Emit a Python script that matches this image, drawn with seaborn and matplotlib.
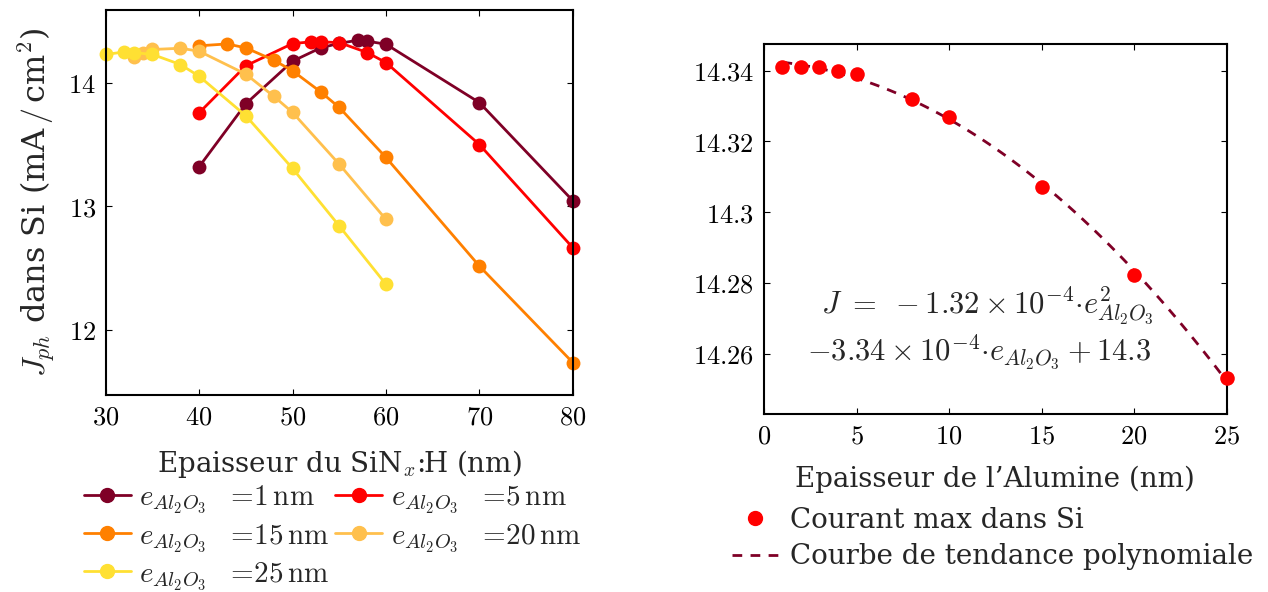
import numpy as np
import pandas as pd
import matplotlib
matplotlib.use("Agg")
import matplotlib.pyplot as plt
from matplotlib.lines import Line2D
from matplotlib.ticker import FuncFormatter
import seaborn as sns

# Left panel: Jph in Si vs SiNx:H thickness, one curve per Al2O3 thickness
alumina_nm = [1, 5, 15, 20, 25]
sin_1nm = [40, 45, 50, 53, 55, 57, 58, 60, 70, 80]
jph_1nm = [13.32, 13.83, 14.175, 14.283, 14.32, 14.345, 14.337, 14.313, 13.84, 13.045]
sin_5nm = [40, 45, 50, 52, 53, 55, 58, 60, 70, 80]
jph_5nm = [13.757, 14.138, 14.318, 14.332, 14.332, 14.326, 14.245, 14.164, 13.50, 12.664]
sin_15nm = [40, 43, 45, 48, 50, 53, 55, 60, 70, 80]
jph_15nm = [14.30, 14.315, 14.283, 14.183, 14.097, 13.927, 13.80, 13.395, 12.515, 11.733]
sin_20nm = [33, 34, 35, 38, 40, 45, 48, 50, 55, 60]
jph_20nm = [14.21, 14.245, 14.27, 14.28, 14.256, 14.07, 13.89, 13.76, 13.34, 12.893]
sin_25nm = [30, 32, 33, 35, 38, 40, 45, 50, 55, 60]
jph_25nm = [14.23, 14.25, 14.245, 14.23, 14.148, 14.053, 13.733, 13.306, 12.84, 12.367]
curve_colors = ["#7f0026", "#ff0000", "#ff8000", "#ffc04d", "#ffe033"]

# Right panel: max current vs alumina thickness
alu_thick = [1, 2, 3, 4, 5, 8, 10, 15, 20, 25]
j_max = [14.341, 14.341, 14.341, 14.340, 14.339, 14.332, 14.327, 14.307, 14.2822, 14.2533]

sns.set_style("ticks")
plt.rcParams.update({
    "font.family": ["DejaVu Serif"],
    "mathtext.fontset": "cm",
    "font.size": 20,
    "axes.linewidth": 1.5,
    "xtick.direction": "in",
    "ytick.direction": "in",
    "xtick.top": True,
    "ytick.right": True,
    "xtick.major.size": 4,
    "ytick.major.size": 4,
    "xtick.color": "black",
    "ytick.color": "black",
    "axes.edgecolor": "black",
})

math_fmt = FuncFormatter(lambda v, p: f"${v:g}$")

fig = plt.figure(figsize=(12.68, 5.92), dpi=100)
ax1 = fig.add_axes([0.0834, 0.3328, 0.3683, 0.6503])
ax2 = fig.add_axes([0.6025, 0.3007, 0.3649, 0.6250])

# ---- left panel
xs = [sin_1nm, sin_5nm, sin_15nm, sin_20nm, sin_25nm]
ys = [jph_1nm, jph_5nm, jph_15nm, jph_20nm, jph_25nm]
df = pd.concat([
    pd.DataFrame({"sin": x, "jph": y, "alu": a})
    for x, y, a in zip(xs, ys, alumina_nm)
])
sns.lineplot(data=df, x="sin", y="jph", hue="alu", palette=curve_colors,
             marker="o", markersize=10, markeredgewidth=0, linewidth=2,
             legend=False, ax=ax1, clip_on=False)

ax1.set_xlim(30, 80)
ax1.set_ylim(11.47, 14.59)
ax1.set_xticks([30, 40, 50, 60, 70, 80])
ax1.set_yticks([12, 13, 14])
ax1.xaxis.set_major_formatter(math_fmt)
ax1.yaxis.set_major_formatter(math_fmt)
ax1.set_xlabel(r"Epaisseur du SiN$_x$:H (nm)", labelpad=13)
ax1.set_ylabel(r"$J_{ph}$ dans Si (mA$\,/\,$cm$^2$)", labelpad=8, fontsize=23)
ax1.tick_params(labelsize=19, pad=7)

handles = [Line2D([], [], color=c, marker="o", markersize=10, lw=2)
           for c in curve_colors]
labels = [r"$e_{Al_2O_3}\ \ =\!" + f"{a}" + r"\,\mathrm{nm}$" for a in alumina_nm]
order = [0, 2, 4, 1, 3]
fig.legend([handles[i] for i in order], [labels[i] for i in order],
           ncol=2, loc="upper left", bbox_to_anchor=(78 / 1268, 1 - 477 / 592),
           borderaxespad=0, borderpad=0.2, frameon=False, handlelength=1.6,
           handletextpad=0.3, columnspacing=0.2, labelspacing=0.2, fontsize=21)

# ---- right panel
sns.scatterplot(x=alu_thick, y=j_max, color="#ff0000", s=110, linewidth=0,
                ax=ax2, zorder=3, clip_on=False)
sns.regplot(x=np.array(alu_thick), y=np.array(j_max), order=2, ci=None,
            scatter=False, ax=ax2,
            line_kws=dict(color="#7f0026", lw=2, ls=(0, (3.5, 3))))

ax2.set_xlim(0, 25)
ax2.set_ylim(14.243, 14.3475)
ax2.set_xticks([0, 5, 10, 15, 20, 25])
ax2.set_yticks([14.26, 14.28, 14.30, 14.32, 14.34])
ax2.xaxis.set_major_formatter(math_fmt)
ax2.yaxis.set_major_formatter(math_fmt)
ax2.set_xlabel("Epaisseur de l\u2019Alumine (nm)", labelpad=12)
ax2.set_ylabel("")
ax2.tick_params(labelsize=19, pad=7)

ax2.text(3.1, 14.2735, r"$J\ =\ -1.32\times10^{-4}{\cdot}e^{2}_{Al_2O_3}$",
         fontsize=22, va="center", ha="left")
ax2.text(2.35, 14.2605, r"$-3.34\times10^{-4}{\cdot}e_{Al_2O_3} + 14.3$",
         fontsize=22, va="center", ha="left")

leg_handles = [
    Line2D([], [], color="#ff0000", marker="o", ls="none", markersize=10),
    Line2D([], [], color="#7f0026", lw=2, ls=(0, (3.5, 3))),
]
fig.legend(leg_handles, ["Courant max dans Si", "Courbe de tendance polynomiale"],
           loc="upper left", bbox_to_anchor=(726 / 1268, 1 - 501 / 592),
           borderaxespad=0, borderpad=0.2, frameon=False,
           handlelength=1.7, handletextpad=0.4, labelspacing=0.35, fontsize=20)

fig.savefig("out.png", dpi=100)
